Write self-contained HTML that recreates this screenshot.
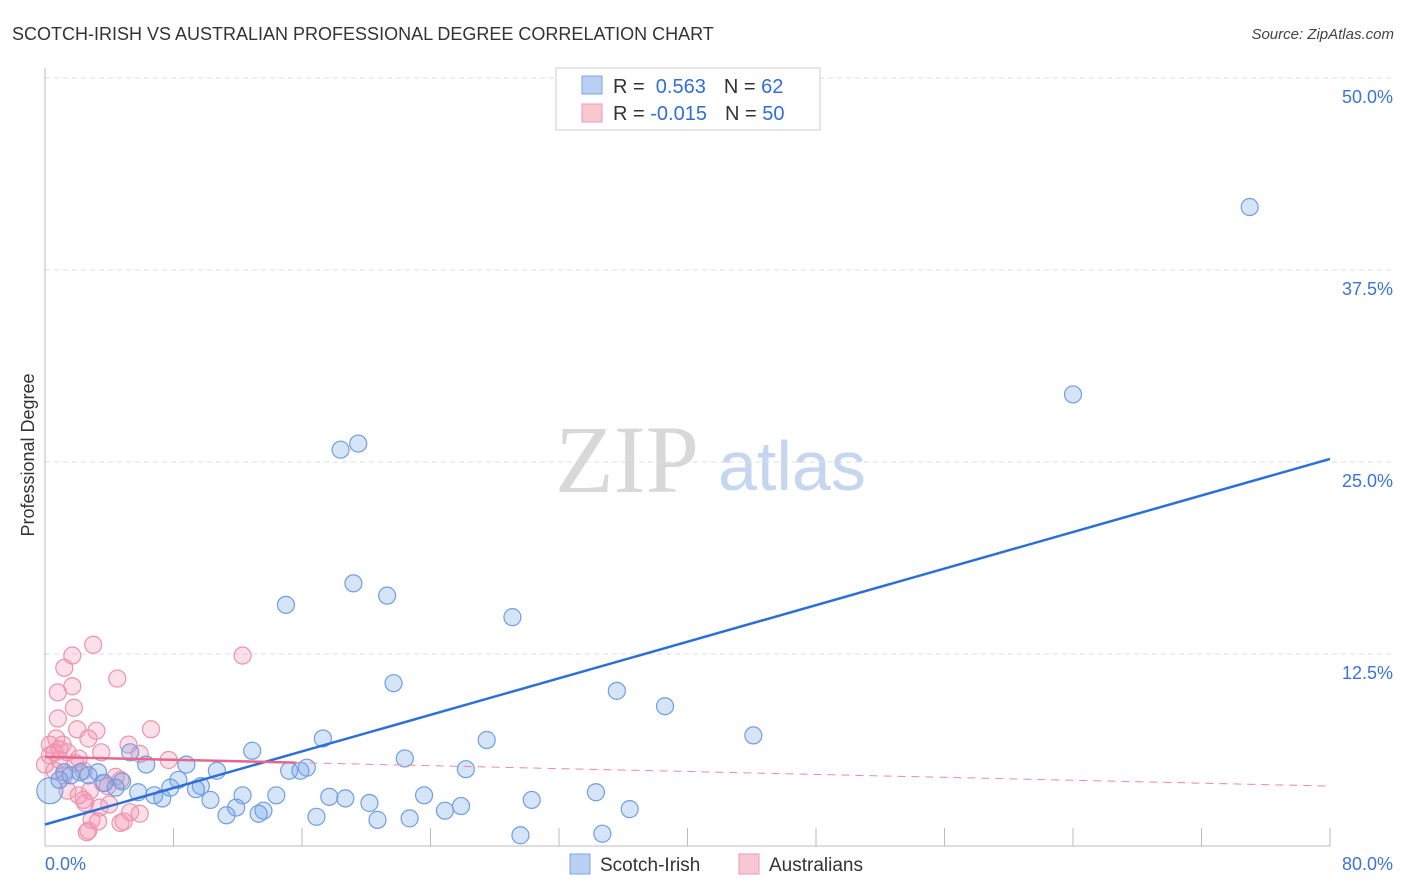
<!DOCTYPE html>
<html><head><meta charset="utf-8"><style>
body{margin:0;background:#fff;font-family:"Liberation Sans",sans-serif;}
svg{display:block}
</style></head><body>
<svg id="c" width="1406" height="892" xmlns="http://www.w3.org/2000/svg">
<text x="12" y="40" font-size="18" fill="#333">SCOTCH-IRISH VS AUSTRALIAN PROFESSIONAL DEGREE CORRELATION CHART</text>
<text x="1394" y="39" font-size="15" fill="#444" font-style="italic" text-anchor="end">Source: ZipAtlas.com</text>
<text transform="translate(34,455) rotate(-90)" font-size="18" fill="#333" text-anchor="middle">Professional Degree</text>
<g>
<text x="555" y="492" font-family="Liberation Serif,serif" font-size="96" fill="#d8d8d8">ZIP</text>
<text x="718" y="490" font-size="70" fill="#c5d6f0">atlas</text>
</g>
<g id="grid"></g><g id="pts"></g><g id="lines"></g>
<g>
<rect x="556" y="68" width="264" height="62" fill="#fff" stroke="#ccc"/>
<rect x="582" y="76" width="20" height="18" fill="#b8d1f3" stroke="#7aa6e8"/>
<rect x="582" y="104" width="20" height="18" fill="#f9c6d4" stroke="#ec9ab2"/>
<text x="613" y="93" font-size="20" fill="#333">R = <tspan fill="#2f6fd6">&#160;0.563</tspan><tspan dx="18">N = </tspan><tspan fill="#2f6fd6">62</tspan></text>
<text x="613" y="120" font-size="20" fill="#333">R = <tspan fill="#2f6fd6">-0.015</tspan><tspan dx="18">N = </tspan><tspan fill="#2f6fd6">50</tspan></text>
</g>
<g>
<rect x="570" y="854" width="20" height="20" fill="#b8d1f3" stroke="#7aa6e8"/>
<text x="600" y="871" font-size="19" fill="#333">Scotch-Irish</text>
<rect x="739" y="854" width="20" height="20" fill="#f9c6d4" stroke="#ec9ab2"/>
<text x="769" y="871" font-size="19" fill="#333">Australians</text>
</g>
</svg>
<script>
const yTicks=[12.5,25,37.5,50];
const yTickLabels=["12.5%","25.0%","37.5%","50.0%"];
const xTickLabels=["0.0%","80.0%"];
const blueX=[75.0,64.0,19.5,18.4,19.2,21.3,15.0,29.1,21.7,35.6,38.6,44.1,17.3,27.5,12.9,5.3,22.4,6.3,8.8,16.3,15.2,15.9,26.2,10.7,1.2,2.2,3.3,8.3,4.8,3.7,4.4,9.7,7.8,9.4,5.8,6.8,7.3,12.3,14.4,17.7,18.7,23.6,34.3,10.3,20.2,30.3,25.9,24.9,36.4,11.9,13.6,13.3,11.3,16.9,20.7,22.7,29.6,34.7,0.3,0.9,1.6,2.7];
const blueY=[41.6,29.4,26.2,25.8,17.1,16.3,15.7,14.9,10.6,10.1,9.1,7.2,7.0,6.9,6.2,6.1,5.7,5.3,5.3,5.1,4.9,4.9,5.0,4.9,4.8,4.8,4.8,4.3,4.2,4.1,3.8,3.9,3.8,3.7,3.5,3.3,3.1,3.3,3.3,3.2,3.1,3.3,3.5,3.0,2.8,3.0,2.6,2.3,2.4,2.5,2.3,2.1,2.0,1.9,1.7,1.8,0.7,0.8,3.6,4.3,4.6,4.6];
const pinkX=[3.0,1.7,12.3,1.2,1.7,0.8,4.5,1.8,0.8,2.0,3.2,6.6,2.7,0.7,0.3,0.9,5.2,5.9,0.6,1.4,3.5,7.7,2.1,1.9,2.4,4.4,3.6,1.4,2.1,2.4,2.5,4.0,3.4,5.3,5.9,2.9,4.7,4.9,3.3,2.7,2.6,0.9,0.6,1.2,4.7,0,0.3,1.1,2.8,3.9];
const pinkY=[13.1,12.4,12.4,11.6,10.4,10.0,10.9,9.0,8.3,7.6,7.5,7.6,7.0,7.0,6.6,6.3,6.6,6.0,6.1,6.1,6.1,5.6,5.7,5.4,4.9,4.5,4.1,3.6,3.3,3.0,2.8,2.7,2.5,2.2,2.1,1.7,1.5,1.6,1.6,1.0,0.9,5.6,4.9,4.6,4.3,5.3,5.9,6.6,3.6,3.9];
const blueFit=[1.4,25.2];
const pinkFit=[5.8,3.9];
const NS="http://www.w3.org/2000/svg";
const X=v=>45+v/80*1285, Y=v=>846-v/12.5*192;
function mk(t,a,p){const e=document.createElementNS(NS,t);for(const k in a)e.setAttribute(k,a[k]);p.appendChild(e);return e;}
const g=document.getElementById('grid'),pts=document.getElementById('pts'),ln=document.getElementById('lines');
yTicks.forEach((v,i)=>{
const l=mk('line',{x1:45,x2:1394,y1:Y(v),y2:Y(v),stroke:'#ddd','stroke-dasharray':'5,4'},g);


const t=mk('text',{x:1393,y:Y(v)+25,'font-size':18,fill:'#3b73d9','text-anchor':'end'},g);t.textContent=yTickLabels[i];


});
mk('line',{x1:45,x2:45,y1:68,y2:846,stroke:'#bbb'},g);
mk('line',{x1:45,x2:1330,y1:846,y2:846,stroke:'#bbb'},g);
for(let i=1;i<=10;i++){const tk=mk('line',{x1:X(i*8),x2:X(i*8),y1:828,y2:846,stroke:'#bbb'},g);

}
const x0=mk('text',{x:45,y:870,'font-size':18,fill:'#3b73d9'},g);x0.textContent=xTickLabels[0];


const x1=mk('text',{x:1393,y:870,'font-size':18,fill:'#3b73d9','text-anchor':'end'},g);x1.textContent=xTickLabels[1];


pinkX.forEach((v,i)=>{const c=mk('circle',{cx:X(v),cy:Y(pinkY[i]),r:8.5,fill:'rgba(244,150,178,0.3)',stroke:'#ec93ad','stroke-width':1.2},pts);

});
blueX.forEach((v,i)=>{const c=mk('circle',{cx:X(v),cy:Y(blueY[i]),r:i==58?13:8.5,fill:'rgba(120,165,232,0.3)',stroke:'#6f9ee2','stroke-width':1.2},pts);

});
const bl=mk('line',{x1:X(0),y1:Y(blueFit[0]),x2:X(80),y2:Y(blueFit[1]),stroke:'#2b6fd8','stroke-width':2.5},ln);


const py=x=>pinkFit[0]+(pinkFit[1]-pinkFit[0])*x/80;
const p1=mk('line',{x1:X(0),y1:Y(py(0)),x2:X(15.6),y2:Y(py(15.6)),stroke:'#e5668e','stroke-width':2.5},ln);


const p2=mk('line',{x1:X(15.6),y1:Y(py(15.6)),x2:X(80),y2:Y(py(80)),stroke:'#e98aa8','stroke-width':1,'stroke-dasharray':'8,6'},ln);


</script>
</body></html>
